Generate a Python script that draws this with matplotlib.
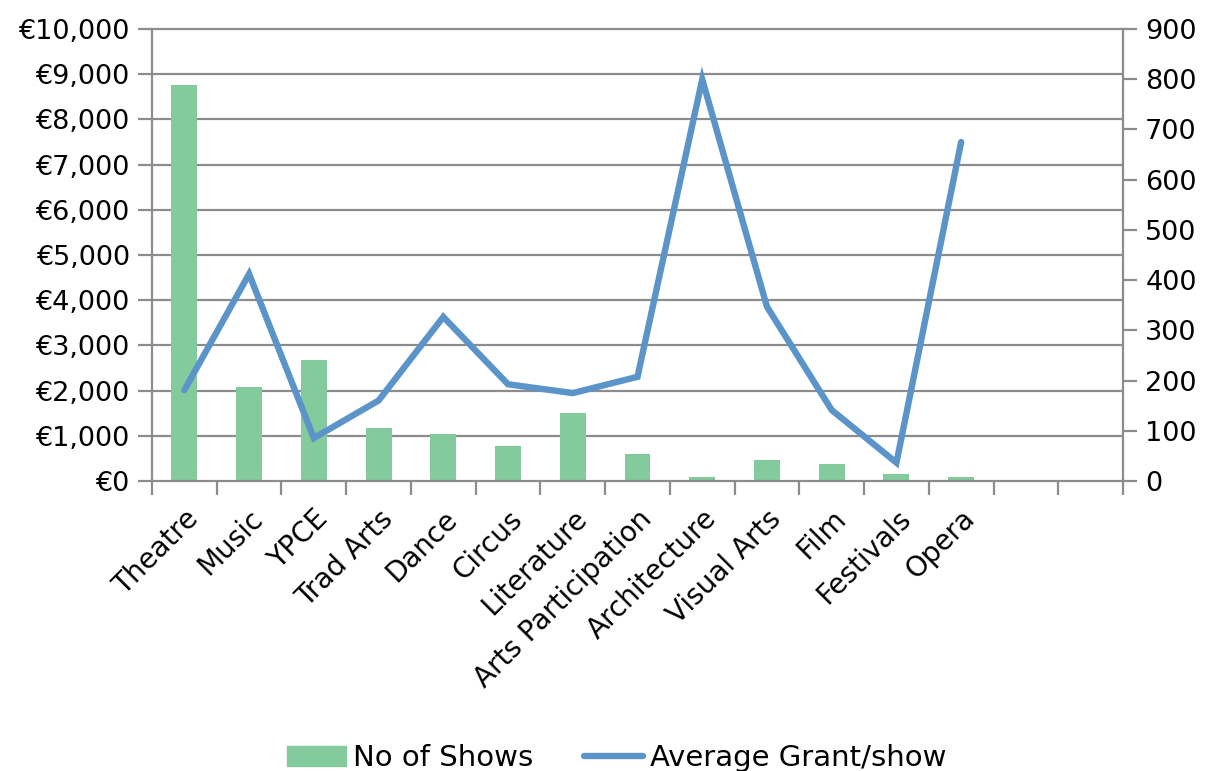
import matplotlib
matplotlib.use("Agg")
import matplotlib.pyplot as plt
import numpy as np
from matplotlib.ticker import FuncFormatter, MultipleLocator

categories = ["Theatre", "Music", "YPCE", "Trad Arts", "Dance", "Circus", "Literature",
              "Arts Participation", "Architecture", "Visual Arts", "Film", "Festivals", "Opera", "", ""]
no_of_shows = [788, 187, 241, 106, 94, 70, 136, 54, 7, 42, 34, 14, 7]
avg_grant = [2010, 4580, 950, 1780, 3630, 2140, 1945, 2305, 8885, 3855, 1570, 405, 7500]

bar_color = "#83CA9C"
line_color = "#5B94C9"
grid_color = "#8C8C8C"

plt.rcParams['font.family'] = ['DejaVu Sans']
fig = plt.figure(figsize=(12.05, 7.71), dpi=100)
ax = fig.add_axes([152/1205, 1-481/771, (1123-152)/1205, (481-29)/771])
ax2 = ax.twinx()

n = len(categories)
x = np.arange(n)
xs = np.arange(len(no_of_shows))

ax2.set_zorder(1)
ax.set_zorder(2)
ax.patch.set_visible(False)
ax2.patch.set_facecolor("white")

ax2.bar(xs, no_of_shows, width=0.4, color=bar_color, zorder=3, label="No of Shows")
ax2.set_ylim(0, 900)
ax2.yaxis.set_major_locator(MultipleLocator(100))
# gridlines follow the left axis (every 1000 €)
ax2.set_yticks(np.arange(0, 901, 90), minor=True)
ax2.grid(which='minor', axis='y', color=grid_color, linewidth=1.6, zorder=0)
ax2.tick_params(which='minor', length=0)
ax2.set_axisbelow(True)
ax2.axhline(900, color=grid_color, linewidth=1.6, clip_on=False, zorder=0)

ln, = ax.plot(xs, avg_grant, color=line_color, linewidth=4.6, solid_capstyle='round',
              solid_joinstyle='miter', label="Average Grant/show")
ax.set_ylim(0, 10000)
ax.yaxis.set_major_locator(MultipleLocator(1000))
ax.yaxis.set_major_formatter(FuncFormatter(lambda v, p: "€{:,.0f}".format(v)))

ax.set_xlim(-0.5, n - 0.5)
ax.set_xticks(np.arange(-0.5, n, 1.0))
ax.set_xticklabels([])
ax.set_xticks(x, minor=True)
ax.set_xticklabels(categories, minor=True, rotation=45, ha='right', va='top',
                   rotation_mode='anchor', fontsize=20)
ax.tick_params(axis='x', which='minor', length=0, pad=17)
ax.tick_params(axis='x', which='major', length=10, width=1.6, color=grid_color, direction='out')

for a in (ax, ax2):
    for s in a.spines.values():
        s.set_visible(False)
ax.spines['left'].set_visible(True)
ax.spines['bottom'].set_visible(True)
ax2.spines['right'].set_visible(True)
for s in (ax.spines['left'], ax.spines['bottom'], ax2.spines['right']):
    s.set_color(grid_color)
    s.set_linewidth(1.6)

ax.tick_params(axis='y', length=10, width=1.6, color=grid_color, labelsize=19.5, pad=6)
ax2.tick_params(axis='y', which='major', length=10, width=1.6, color=grid_color, labelsize=19.5, pad=6)

handles = [plt.Rectangle((0, 0), 1, 1, color=bar_color), ln]
fig.legend(handles, ["No of Shows", "Average Grant/show"], loc='center',
           bbox_to_anchor=(0.512, 1 - 758/771), ncol=2, frameon=False, fontsize=21,
           handlelength=2.0, columnspacing=1.75, handletextpad=0.25, borderpad=0)

fig.savefig("out.png", dpi=100)
